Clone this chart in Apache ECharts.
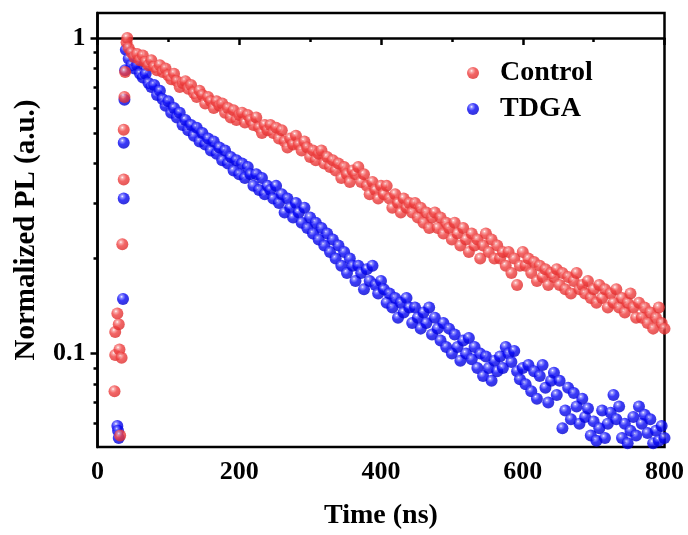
<!DOCTYPE html>
<html><head><meta charset="utf-8">
<script src="https://cdn.jsdelivr.net/npm/echarts@6/dist/echarts.min.js"></script>
<style>html,body{margin:0;padding:0;background:#fff}#c{width:688px;height:535px}</style>
</head><body><div id="c"></div>
<script>
// ---- data ----
var controlRiseTimes = [24, 25, 25, 28, 30, 31, 32, 34, 35, 37, 37, 38, 39, 41, 42];
var controlRiseValues = [0.076, 0.099, 0.117, 0.134, 0.124, 0.103, 0.055, 0.097, 0.222, 0.356, 0.512, 0.65, 0.78, 0.97, 1.0];
var tdgaRiseTimes = [28, 29, 30, 36, 37, 37, 38, 39, 40];
var tdgaRiseValues = [0.059, 0.057, 0.054, 0.149, 0.31, 0.466, 0.637, 0.79, 0.917];

var decayTimes = [44,48,52,56,60,64,68,72,76,80,
  84,88,92,96,100,104,108,112,116,120,
  124,128,132,136,140,144,148,152,156,160,
  164,168,172,176,180,184,188,192,196,200,
  204,208,212,216,220,224,228,232,236,240,
  244,248,252,256,260,264,268,272,276,280,
  284,288,292,296,300,304,308,312,316,320,
  324,328,332,336,340,344,348,352,356,360,
  364,368,372,376,380,384,388,392,396,400,
  404,408,412,416,420,424,428,432,436,440,
  444,448,452,456,460,464,468,472,476,480,
  484,488,492,496,500,504,508,512,516,520,
  524,528,532,536,540,544,548,552,556,560,
  564,568,572,576,580,584,588,592,596,600,
  604,608,612,616,620,624,628,632,636,640,
  644,648,652,656,660,664,668,672,676,680,
  684,688,692,696,700,704,708,712,716,720,
  724,728,732,736,740,744,748,752,756,760,
  764,768,772,776,780,784,788,792,796,800];

var controlDecay = [0.93,0.90,0.87,0.89,0.85,0.88,0.84,0.82,0.85,0.81,
  0.79,0.82,0.78,0.80,0.76,0.74,0.77,0.73,0.70,0.72,
  0.73,0.69,0.71,0.67,0.65,0.68,0.66,0.62,0.65,0.63,
  0.60,0.63,0.61,0.62,0.58,0.60,0.56,0.59,0.55,0.57,
  0.58,0.54,0.57,0.55,0.53,0.56,0.52,0.50,0.53,0.51,
  0.53,0.50,0.52,0.48,0.51,0.47,0.45,0.48,0.46,0.49,
  0.46,0.44,0.47,0.45,0.42,0.44,0.41,0.43,0.44,0.40,
  0.42,0.39,0.41,0.38,0.40,0.36,0.39,0.37,0.35,0.38,
  0.37,0.39,0.35,0.37,0.34,0.32,0.35,0.33,0.31,0.34,
  0.32,0.34,0.31,0.29,0.32,0.30,0.28,0.31,0.29,0.30,
  0.28,0.30,0.27,0.29,0.26,0.28,0.25,0.27,0.28,0.25,
  0.27,0.24,0.26,0.25,0.23,0.26,0.24,0.22,0.25,0.23,
  0.21,0.24,0.22,0.23,0.20,0.22,0.24,0.21,0.23,0.20,
  0.22,0.20,0.21,0.19,0.21,0.18,0.20,0.165,0.19,0.21,
  0.19,0.20,0.18,0.195,0.17,0.19,0.175,0.185,0.165,0.18,
  0.175,0.185,0.165,0.18,0.16,0.175,0.155,0.17,0.18,0.16,
  0.165,0.155,0.17,0.15,0.16,0.145,0.165,0.15,0.16,0.14,
  0.155,0.145,0.16,0.14,0.15,0.135,0.145,0.155,0.14,0.13,
  0.145,0.13,0.14,0.125,0.135,0.12,0.13,0.14,0.125,0.12];

var tdgaDecay = [0.86,0.82,0.80,0.82,0.77,0.75,0.77,0.72,0.70,0.71,
  0.66,0.68,0.64,0.61,0.63,0.58,0.60,0.56,0.58,0.53,
  0.55,0.51,0.53,0.49,0.52,0.47,0.50,0.46,0.48,0.44,
  0.47,0.43,0.45,0.41,0.44,0.40,0.42,0.38,0.41,0.37,
  0.40,0.36,0.39,0.37,0.34,0.37,0.33,0.36,0.32,0.34,
  0.33,0.31,0.34,0.30,0.32,0.28,0.31,0.29,0.27,0.30,
  0.28,0.26,0.29,0.25,0.27,0.24,0.26,0.23,0.25,0.22,
  0.24,0.21,0.23,0.20,0.22,0.19,0.21,0.18,0.20,0.19,
  0.17,0.19,0.18,0.16,0.185,0.17,0.19,0.165,0.155,0.17,
  0.16,0.145,0.155,0.14,0.15,0.13,0.145,0.135,0.15,0.14,
  0.125,0.14,0.13,0.12,0.135,0.125,0.14,0.115,0.13,0.12,
  0.11,0.125,0.105,0.12,0.10,0.115,0.105,0.095,0.11,0.10,
  0.112,0.096,0.105,0.09,0.10,0.085,0.098,0.09,0.082,0.095,
  0.088,0.098,0.09,0.105,0.1,0.094,0.102,0.088,0.083,0.09,
  0.08,0.092,0.076,0.088,0.072,0.085,0.092,0.078,0.07,0.082,
  0.087,0.074,0.082,0.058,0.066,0.078,0.062,0.075,0.068,0.06,
  0.072,0.063,0.067,0.055,0.061,0.053,0.058,0.066,0.054,0.06,
  0.065,0.074,0.062,0.068,0.054,0.06,0.052,0.057,0.063,0.055,
  0.068,0.06,0.064,0.056,0.062,0.052,0.057,0.053,0.059,0.054];

var xTickLabels = ['0', '200', '400', '600', '800'];
var yMajorTicks = [0.1, 1];
var yMinorTicks = [0.06, 0.07, 0.08, 0.09, 0.2, 0.3, 0.4, 0.5, 0.6, 0.7, 0.8, 0.9];
var seriesNames = ['Control', 'TDGA'];

// ---- build ----
function pairs(ts, vs) { return ts.map(function (t, i) { return [t, vs[i]]; }); }
var controlData = pairs(controlRiseTimes, controlRiseValues).concat(pairs(decayTimes, controlDecay));
var tdgaData = pairs(tdgaRiseTimes, tdgaRiseValues).concat(pairs(decayTimes, tdgaDecay));

var FONT = "'Liberation Serif', 'Times New Roman', serif";
var Y_MIN = 0.0506, Y_MAX = 1.2;
var LMIN = Math.log10(Y_MIN), LMAX = Math.log10(Y_MAX);

function sphere(light, mid, dark) {
  return new echarts.graphic.RadialGradient(0.38, 0.32, 0.78, [
    { offset: 0, color: '#ffffff' },
    { offset: 0.14, color: light },
    { offset: 0.42, color: mid },
    { offset: 1, color: dark }
  ]);
}
var redFill = sphere('#f89a9a', '#f04040', '#d82828');
var blueFill = sphere('#7a7aff', '#0808f8', '#0000c4');

var chart = echarts.init(document.getElementById('c'), null, { renderer: 'canvas' });
var lineStyle = { color: '#000', width: 2.5 };
var labelStyle = { color: '#000', fontFamily: FONT, fontWeight: 'bold', fontSize: 26 };

chart.setOption({
  backgroundColor: '#fff',
  animation: false,
  grid: { left: 97.5, right: 23.5, top: 13, bottom: 85.5, show: true, borderColor: '#000', borderWidth: 2.5, backgroundColor: 'transparent' },
  legend: {
    orient: 'vertical', left: 462, top: 54, itemGap: 8,
    itemWidth: 22, itemHeight: 12, icon: 'circle',
    data: seriesNames,
    textStyle: { color: '#000', fontFamily: FONT, fontWeight: 'bold', fontSize: 28, padding: [0, 0, 0, 11] }
  },
  xAxis: {
    type: 'value', min: 0, max: 800, interval: 200,
    name: 'Time (ns)', nameLocation: 'middle', nameGap: 55,
    nameTextStyle: { color: '#000', fontFamily: FONT, fontWeight: 'bold', fontSize: 28 },
    axisLine: { show: true, lineStyle: lineStyle },
    axisTick: { show: true, inside: false, length: 7, lineStyle: { color: '#000', width: 2.5 } },
    minorTick: { show: true, splitNumber: 2, length: 4, lineStyle: { color: '#000', width: 2.5 } },
    axisLabel: Object.assign({ margin: 12, formatter: function (v) { return xTickLabels[Math.round(v / 200)]; } }, labelStyle),
    splitLine: { show: false }, minorSplitLine: { show: false }
  },
  yAxis: [
    {
      type: 'log', logBase: 10, min: Y_MIN, max: Y_MAX, position: 'left',
      axisLine: { show: true, lineStyle: lineStyle },
      axisTick: { show: false }, axisLabel: { show: false }, splitLine: { show: false },
      name: 'Normalized PL (a.u.)', nameLocation: 'middle', nameGap: 56, nameRotate: 90,
      nameTextStyle: { color: '#000', fontFamily: FONT, fontWeight: 'bold', fontSize: 29 }
    },
    {
      type: 'value', min: LMIN, max: LMAX, position: 'left',
      axisLine: { show: false },
      axisTick: { show: true, length: 7, lineStyle: { color: '#000', width: 2.5 }, customValues: yMajorTicks.map(Math.log10) },
      axisLabel: Object.assign({ margin: 12, customValues: yMajorTicks.map(Math.log10), formatter: function (v) { return String(yMajorTicks[Math.round(v) + 1]); } }, labelStyle),
      splitLine: { show: false }
    },
    {
      type: 'value', min: LMIN, max: LMAX, position: 'left',
      axisLine: { show: false },
      axisTick: { show: true, length: 4, lineStyle: { color: '#000', width: 2.5 }, customValues: yMinorTicks.map(Math.log10) },
      axisLabel: { show: false }, splitLine: { show: false }
    }
  ],
  series: [
    { name: seriesNames[0], type: 'scatter', yAxisIndex: 0, z: 3, symbol: 'circle', symbolSize: 12, data: controlData, itemStyle: { color: redFill } },
    { name: seriesNames[1], type: 'scatter', yAxisIndex: 0, z: 2, symbol: 'circle', symbolSize: 12, data: tdgaData, itemStyle: { color: blueFill } }
  ]
});
</script></body></html>
